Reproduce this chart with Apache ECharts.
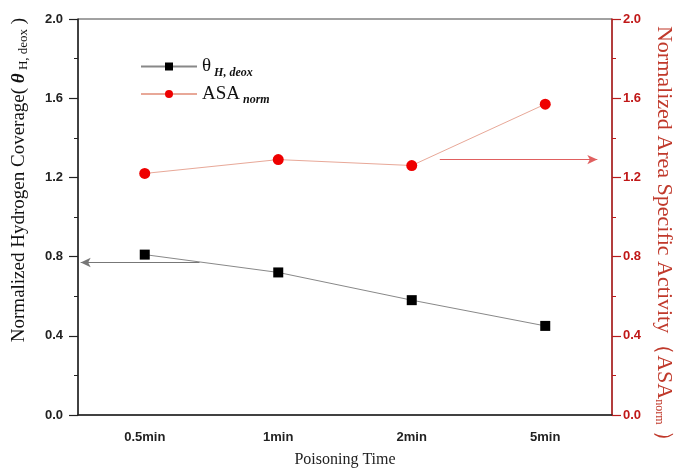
<!DOCTYPE html>
<html>
<head>
<meta charset="utf-8">
<script src="https://cdn.jsdelivr.net/npm/echarts@6/dist/echarts.min.js"></script>
<style>html,body{margin:0;padding:0;background:#fff}#c{width:678px;height:468px}</style>
</head>
<body>
<div id="c"></div>
<script>
var categories = ['0.5min', '1min', '2min', '5min'];
var thetaValues = [0.81, 0.72, 0.58, 0.45];
var asaValues = [1.22, 1.29, 1.26, 1.57];
var yTicks = [0, 0.4, 0.8, 1.2, 1.6, 2.0];
// arrow annotations: [x index position on hidden value axis, y value]
var leftArrow = [[0.41, 0.77], [-0.48, 0.77]];
var rightArrow = [[2.21, 1.29], [3.39, 1.29]];

var serif = '"Liberation Serif", "DejaVu Serif", serif';
var sans = '"Liberation Sans", Arial, sans-serif';
var darkRed = '#b81c1c';

var chart = echarts.init(document.getElementById('c'));
chart.setOption({
  animation: false,
  backgroundColor: '#fff',
  grid: { left: 78, right: 66, top: 19, bottom: 53, outerBoundsMode: 'none', containLabel: false,
    show: true, borderColor: '#444', borderWidth: 1, backgroundColor: 'transparent' },
  legend: {
    orient: 'vertical', left: 135, top: 52, itemWidth: 56, itemHeight: 10, itemGap: 6,
    data: ['theta', 'asa'],
    formatter: function (name) {
      return name === 'theta' ? '{m|θ}{s|H, deox}' : '{m|ASA}{s|norm}';
    },
    textStyle: {
      rich: {
        m: { fontFamily: serif, fontSize: 19, color: '#111' },
        s: { fontFamily: serif, fontSize: 12, fontStyle: 'italic', fontWeight: 'bold', color: '#111', padding: [12, 0, 0, 3] }
      }
    }
  },
  xAxis: [{
    type: 'category', data: categories, boundaryGap: true,
    axisLine: { lineStyle: { color: '#222', width: 1.5 } },
    axisTick: { alignWithLabel: true, length: 6, lineStyle: { color: '#222' } },
    axisLabel: { fontFamily: sans, fontWeight: 'bold', fontSize: 13, color: '#222', margin: 16 },
    name: 'Poisoning Time', nameLocation: 'middle', nameGap: 37,
    nameTextStyle: { fontFamily: serif, fontSize: 16, color: '#222' }
  }, {
    type: 'value', min: -0.5, max: 3.5, show: false
  }],
  yAxis: [{
    type: 'value', min: 0, max: 2, interval: 0.4, position: 'left',
    axisLine: { show: true, onZero: false, lineStyle: { color: '#222', width: 1.5 } },
    axisTick: { show: true, length: 9, lineStyle: { color: '#222', width: 1.2 } },
    minorTick: { show: true, splitNumber: 2, length: 4, lineStyle: { color: '#222' } },
    splitLine: { show: false },
    axisLabel: { fontFamily: sans, fontWeight: 'bold', fontSize: 13, color: '#222', margin: 15,
      formatter: function (v) { return v.toFixed(1); } },
    name: '{n|Normalized Hydrogen Coverage( }{t|θ}{s| H, deox}{n| )}',
    nameLocation: 'middle', nameGap: 48, nameRotate: 90,
    nameTextStyle: {
      padding: [0, 0, 0, 74],
      rich: {
        n: { fontFamily: serif, fontSize: 19, color: '#111' },
        t: { fontFamily: serif, fontSize: 19, fontStyle: 'italic', fontWeight: 'bold', color: '#111' },
        s: { fontFamily: serif, fontSize: 13, color: '#111', padding: [9, 0, 0, 0] }
      }
    }
  }, {
    type: 'value', min: 0, max: 2, interval: 0.4, position: 'right',
    axisLine: { show: true, onZero: false, lineStyle: { color: darkRed, width: 1.5 } },
    axisTick: { show: true, length: 9, lineStyle: { color: darkRed, width: 1.2 } },
    minorTick: { show: true, splitNumber: 2, length: 4, lineStyle: { color: darkRed } },
    splitLine: { show: false },
    axisLabel: { fontFamily: sans, fontWeight: 'bold', fontSize: 13, color: '#c01818', margin: 11,
      formatter: function (v) { return v.toFixed(1); } },
    name: '{n|Normalized Area Specific Activity（ASA}{s|norm}{n| ）}',
    nameLocation: 'middle', nameGap: 41, nameRotate: -90,
    nameTextStyle: {
      padding: [0, 0, 0, 44],
      rich: {
        n: { fontFamily: serif, fontSize: 22, color: '#c0392b' },
        s: { fontFamily: serif, fontSize: 12, color: '#c0392b', padding: [10, 0, 0, 0] }
      }
    }
  }],
  series: [{
    name: 'theta', type: 'line', data: thetaValues, xAxisIndex: 0, yAxisIndex: 0,
    symbol: 'rect', symbolSize: 10,
    itemStyle: { color: '#000' },
    lineStyle: { color: '#888', width: 1 }
  }, {
    name: 'asa', type: 'line', data: asaValues, xAxisIndex: 0, yAxisIndex: 1,
    symbol: 'circle', symbolSize: 11,
    itemStyle: { color: '#ee0000' },
    lineStyle: { color: '#e8a898', width: 1 }
  }, {
    type: 'line', data: [], xAxisIndex: 1, yAxisIndex: 0,
    markLine: {
      silent: true, symbol: ['none', 'arrow'], symbolSize: [7, 10],
      label: { show: false },
      lineStyle: { color: '#777', width: 1, type: 'solid' },
      itemStyle: { color: '#111' },
      data: [[{ coord: leftArrow[0] }, { coord: leftArrow[1] }]]
    }
  }, {
    type: 'line', data: [], xAxisIndex: 1, yAxisIndex: 1,
    markLine: {
      silent: true, symbol: ['none', 'arrow'], symbolSize: [7, 10],
      label: { show: false },
      lineStyle: { color: '#e06060', width: 1, type: 'solid' },
      data: [[{ coord: rightArrow[0] }, { coord: rightArrow[1] }]]
    }
  }]
});
</script>
</body>
</html>
